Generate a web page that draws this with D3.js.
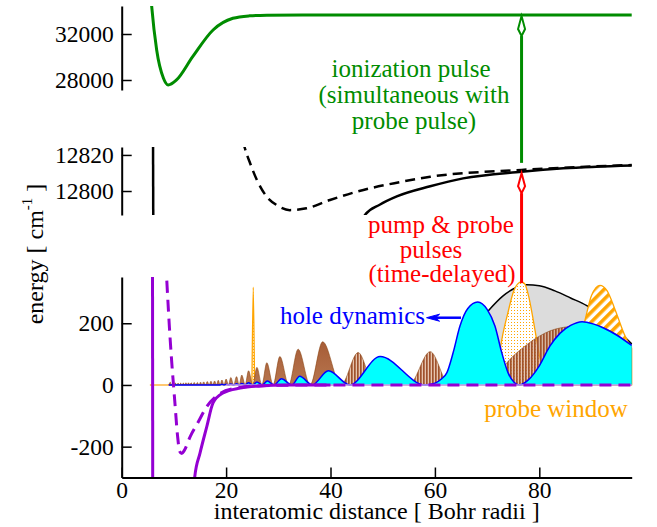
<!DOCTYPE html>
<html>
<head>
<meta charset="utf-8">
<script src="https://cdn.jsdelivr.net/npm/d3@7"></script>
<style>
  body { margin: 0; background: #fff; }
  svg { display: block; }
  svg text { font-family: "Liberation Serif", "Times New Roman", Times, serif; }
</style>
</head>
<body>
<script>
// values: x in Bohr radii, y in cm^-1
const xTicks = [0, 20, 40, 60, 80];
const xMinor = [10, 30, 50, 70, 90];
const topTicks = [28000, 32000];
const topMinor = [30000, 34000];
const midTicks = [12800, 12820];
const midMinor = [12790, 12810];
const lowTicks = [-200, 0, 200];
const lowMinor = [-100, 100, 300];

// ionic state (green)
const ionState = [[5.6, 35200], [5.75, 34374], [6.7, 30609], [8.0, 28148], [8.9, 27565], [10.5, 28000],
  [13.6, 30026], [17.5, 32348], [21.3, 33365], [24.5, 33580], [27.8, 33640], [35, 33655], [97.7, 33655]];

// excited states (black)
const excitedWall = [[6.0, 12830], [6.05, 12780]];
const excitedSolid = [[46.2, 12783], [46.6, 12786.7], [49.5, 12792.5], [52.7, 12797.0], [59.1, 12802.6],
  [65.4, 12807.0], [76.6, 12810.7], [84.6, 12812.6], [97.7, 12814.2]];
const excitedDashed = [[23.2, 12828], [23.6, 12823.7], [24.6, 12815.4], [25.9, 12806.1], [27.8, 12796.8],
  [29.7, 12792.2], [32.2, 12789.4], [35.4, 12790.4], [39.9, 12795], [46.3, 12800.6], [52.7, 12804.6],
  [59.1, 12807.9], [76.6, 12811.7], [97.7, 12814.4]];

// ground state potentials (purple)
const groundWall = [[5.9, 400], [5.95, -400]];
const groundSolid = [[13.8, -330], [14.0, -297], [15.0, -221], [16.3, -135], [17.5, -58], [19.4, -26],
  [22.7, -10], [26.5, -3], [32, -0.5], [40, 0]];
const groundDashed = [[8.45, 400], [8.6, 351], [9.25, 157], [10.2, -60], [10.7, -165], [11.1, -215],
  [11.5, -222], [12.0, -212], [13.1, -168], [14.5, -125], [16.3, -70], [18.8, -28], [22, -10], [26, -3],
  [30, -1], [40, 0], [97.7, 0]];
const zeroLine = [[20, 0], [97.7, 0]];

// initial wave packet (brown): lobes between nodes, then the broad outer lobe
const brownNodes = [9.05, 9.55, 10.05, 10.55, 11.05, 11.55, 12.05, 12.55, 13.05, 13.6, 14.2, 14.8,
  15.4, 16.05, 16.75, 17.45, 18.15, 18.85, 19.6, 20.45, 21.45, 22.5, 23.65, 25.1, 26.85, 29.0, 32.0,
  36.1, 42.0, 48.4, 55.0, 62.8, 70.5];
const brownPeaks = [[9.3, 9], [9.8, 6], [10.3, 6], [10.8, 6], [11.3, 6], [11.8, 6], [12.3, 7], [12.8, 7],
  [13.3, 7], [13.9, 8], [14.5, 8], [15.1, 9], [15.7, 10], [16.4, 11], [17.1, 12], [17.8, 13], [18.5, 15],
  [19.2, 16], [20.0, 19], [20.9, 24], [22.0, 27], [23.0, 32], [24.3, 46], [25.9, 57], [27.8, 72],
  [30.3, 92], [33.8, 116], [38.5, 140], [45.3, 105], [51.5, 70], [59.1, 108], [66.8, 150]];
const brownTail = [[72, 28], [73.8, 72], [76.9, 121], [80.1, 159], [82, 175], [86.5, 191], [90, 195],
  [94, 172], [97.7, 125]];

// hole dynamics (cyan)
const cyanNodes = [18.85, 19.6, 20.45, 21.45, 22.5, 23.65, 25.1, 26.9, 29.2, 32.6, 36.5, 43.7, 58.1];
const cyanPeaks = [[19.2, 2], [20.0, 2.5], [20.9, 3], [22.0, 4], [23.0, 5], [24.3, 7], [25.9, 10],
  [27.9, 13], [30.6, 20], [34.1, 28], [39.6, 46], [49.5, 92]];
const cyanTail = [[60, 6], [61.3, 20], [62.3, 40], [63.5, 105], [64.8, 191], [66.3, 248], [68.2, 269],
  [70.0, 245], [71.5, 191], [72.8, 105], [74, 40], [75.2, 8], [76.2, 0], [78, 18], [80, 62], [82, 125],
  [84, 168], [86, 193], [88.2, 205], [90.3, 198], [92.5, 183], [94.8, 162], [97.7, 128]];

// excited wave packet (gray)
const grayLobe = [[60.5, 0], [63, 45], [65.5, 120], [68, 190], [70.2, 240], [73, 288], [75.5, 315],
  [77.6, 325], [80, 322], [83, 305], [86, 282], [89.1, 257], [92, 222], [95, 177], [97.7, 133]];

// probe window (orange)
const probeBase = [[5.4, 0], [9.6, 0]];
const probeSpike = [[24.95, 0], [25.2, 317], [25.45, 0]];
const probeLobeA = [[70.5, 0], [71.2, 8], [72, 55], [72.8, 145], [74, 235], [75, 300], [76, 330],
  [76.6, 334], [77.2, 328], [78, 285], [79, 195], [80.1, 90], [81, 35], [82, 8], [83, 0]];
const probeLobeB = [[84.5, 0], [86, 40], [87.5, 120], [88.8, 213], [90, 290], [91.6, 323], [93, 305],
  [94.5, 245], [96.4, 160], [97.7, 118]];

const pulseR = 76.6;
const denseGridEnd = 41.5; // below this the brown sampling lines merge into a solid fill

const width = 657, height = 527;
const serif = '"Liberation Serif", "Times New Roman", Times, serif';

const svg = d3.select('body').append('svg')
  .attr('width', width)
  .attr('height', height);

const x = d3.scaleLinear().domain([0, 97.7]).range([121.7, 631.7]);
const yTop = d3.scaleLinear().domain([27130, 34435]).range([90, 6]);
const yMid = d3.scaleLinear().domain([12786.7, 12824.4]).range([215, 147]);
const yLow = d3.scaleLinear().domain([-300, 350]).range([477.5, 277]);

const defs = svg.append('defs');

function clip(id, y) {
  const [y0, y1] = y.range();
  defs.append('clipPath').attr('id', id).append('rect')
    .attr('x', x.range()[0]).attr('y', y1)
    .attr('width', x.range()[1] - x.range()[0] + 1).attr('height', y0 - y1);
}
clip('clipTop', yTop);
clip('clipMid', yMid);
clip('clipLow', yLow);

defs.append('clipPath').attr('id', 'clipDense').append('rect')
  .attr('x', 0).attr('y', 0).attr('width', x(denseGridEnd)).attr('height', height);
defs.append('clipPath').attr('id', 'clipSparse').append('rect')
  .attr('x', x(denseGridEnd)).attr('y', 0).attr('width', width).attr('height', height);

// fill patterns
const brownPat = defs.append('pattern').attr('id', 'brown')
  .attr('patternUnits', 'userSpaceOnUse').attr('width', 3).attr('height', 10);
brownPat.append('rect').attr('width', 3).attr('height', 10).attr('fill', 'rgba(205,140,95,0.5)');
brownPat.append('rect').attr('width', 1.7).attr('height', 10).attr('fill', '#a0522d');

const brownGrad = defs.append('linearGradient').attr('id', 'brownSolid')
  .attr('x1', 0).attr('y1', 0).attr('x2', 0).attr('y2', 1);
brownGrad.append('stop').attr('offset', '0%').attr('stop-color', '#a0522d');
brownGrad.append('stop').attr('offset', '100%').attr('stop-color', '#b7764f');

const dotPat = defs.append('pattern').attr('id', 'dots')
  .attr('patternUnits', 'userSpaceOnUse').attr('width', 3).attr('height', 3);
dotPat.append('rect').attr('width', 3).attr('height', 3).attr('fill', '#fff');
dotPat.append('rect').attr('x', 1).attr('y', 1).attr('width', 1).attr('height', 1).attr('fill', '#ffa500');

const hatchPat = defs.append('pattern').attr('id', 'hatch')
  .attr('patternUnits', 'userSpaceOnUse').attr('width', 7).attr('height', 7)
  .attr('patternTransform', 'rotate(45)');
hatchPat.append('rect').attr('width', 7).attr('height', 7).attr('fill', '#fff');
hatchPat.append('rect').attr('width', 3.6).attr('height', 7).attr('fill', '#ffa500');

function lobes(nodes, peaks) {
  const pts = [];
  nodes.forEach((n, i) => {
    pts.push([n, 0]);
    if (peaks[i]) pts.push(peaks[i]);
  });
  return pts;
}

const lineFor = (y) => d3.line()
  .x(d => x(d[0])).y(d => y(d[1]))
  .curve(d3.curveMonotoneX);
const areaFor = (y) => d3.area()
  .x(d => x(d[0])).y0(y(0)).y1(d => y(d[1]))
  .curve(d3.curveMonotoneX);

// ---- top panel ----
const gTop = svg.append('g').attr('clip-path', 'url(#clipTop)');
gTop.append('path').attr('d', lineFor(yTop)(ionState))
  .attr('fill', 'none').attr('stroke', '#008c00').attr('stroke-width', 3);

// ---- middle panel ----
const gMid = svg.append('g').attr('clip-path', 'url(#clipMid)');
gMid.append('path').attr('d', d3.line().x(d => x(d[0])).y(d => yMid(d[1]))(excitedWall))
  .attr('fill', 'none').attr('stroke', '#000').attr('stroke-width', 2.5);
gMid.append('path').attr('d', lineFor(yMid)(excitedSolid))
  .attr('fill', 'none').attr('stroke', '#000').attr('stroke-width', 2.5);
gMid.append('path').attr('d', lineFor(yMid)(excitedDashed))
  .attr('fill', 'none').attr('stroke', '#000').attr('stroke-width', 2.5)
  .attr('stroke-dasharray', '10,6');

// ---- bottom panel ----
const gLow = svg.append('g').attr('clip-path', 'url(#clipLow)');
const lowLine = lineFor(yLow);
const lowArea = areaFor(yLow);

gLow.append('path').attr('d', lowArea(grayLobe)).attr('fill', '#dcdcdc');
gLow.append('path').attr('d', lowLine(grayLobe.slice(4)))
  .attr('fill', 'none').attr('stroke', '#000').attr('stroke-width', 1.5);

gLow.append('path').attr('d', lowLine(probeBase))
  .attr('fill', 'none').attr('stroke', '#ffc870').attr('stroke-width', 2);
[[probeSpike, 'url(#dots)'], [probeLobeA, 'url(#dots)'], [probeLobeB, 'url(#hatch)']].forEach(([d, f]) => {
  gLow.append('path').attr('d', lowArea(d)).attr('fill', f)
    .attr('stroke', '#ffa500').attr('stroke-width', 1.3);
});

const brown = lobes(brownNodes, brownPeaks).concat(brownTail);
gLow.append('g').attr('clip-path', 'url(#clipDense)')
  .append('path').attr('d', lowArea(brown)).attr('fill', 'url(#brownSolid)')
  .attr('stroke', '#8b4513').attr('stroke-width', 0.6);
gLow.append('g').attr('clip-path', 'url(#clipSparse)')
  .append('path').attr('d', lowArea(brown)).attr('fill', 'url(#brown)')
  .attr('stroke', '#8b4513').attr('stroke-width', 0.6);

const cyan = [[9.0, 0]].concat(lobes(cyanNodes, cyanPeaks), cyanTail);
gLow.append('path').attr('d', lowArea(cyan)).attr('fill', '#00ffff');
gLow.append('path').attr('d', lowLine(cyan))
  .attr('fill', 'none').attr('stroke', '#0000ff').attr('stroke-width', 1.5);

gLow.append('path').attr('d', lowLine(zeroLine))
  .attr('fill', 'none').attr('stroke', '#c9a0e8').attr('stroke-width', 1.5);
gLow.append('path').attr('d', d3.line().x(d => x(d[0])).y(d => yLow(d[1]))(groundWall))
  .attr('fill', 'none').attr('stroke', '#9400d3').attr('stroke-width', 3);
gLow.append('path').attr('d', lowLine(groundSolid))
  .attr('fill', 'none').attr('stroke', '#9400d3').attr('stroke-width', 3);
gLow.append('path').attr('d', lowLine(groundDashed))
  .attr('fill', 'none').attr('stroke', '#9400d3').attr('stroke-width', 3)
  .attr('stroke-dasharray', '12,7');

// ---- axes ----
function leftAxis(y, major, minor) {
  const g = svg.append('g').attr('transform', `translate(${x.range()[0]},0)`);
  g.call(d3.axisLeft(y).tickValues(minor).tickSize(-6).tickSizeOuter(0).tickFormat(''));
  g.call(d3.axisLeft(y).tickValues(major).tickSize(-10).tickSizeOuter(0).tickPadding(8)
    .tickFormat(d => String(d)));
  g.attr('font-family', null);
  g.selectAll('.domain').attr('stroke-width', 2);
  g.selectAll('.tick line').attr('stroke-width', 1.5);
  g.selectAll('text').style('font-family', serif).attr('font-size', 23.5).attr('fill', '#000');
}
leftAxis(yTop, topTicks, topMinor);
leftAxis(yMid, midTicks, midMinor);
leftAxis(yLow, lowTicks, lowMinor);

const gx = svg.append('g').attr('transform', `translate(0,${yLow.range()[0]})`);
gx.call(d3.axisBottom(x).tickValues(xMinor).tickSize(-6).tickSizeOuter(0).tickFormat(''));
gx.call(d3.axisBottom(x).tickValues(xTicks).tickSize(-10).tickSizeOuter(0).tickPadding(4)
  .tickFormat(d => String(d)));
gx.attr('font-family', null);
gx.selectAll('.domain').attr('stroke-width', 2);
gx.selectAll('.tick line').attr('stroke-width', 1.5);
gx.selectAll('text').style('font-family', serif).attr('font-size', 23.5).attr('fill', '#000');

// ---- axis titles ----
svg.append('text')
  .attr('x', 376.7).attr('y', 519)
  .attr('text-anchor', 'middle')
  .style('font-family', serif).attr('font-size', 24)
  .text('interatomic distance [ Bohr radii ]');

const yl = svg.append('text')
  .attr('transform', 'translate(43,254) rotate(-90)')
  .attr('text-anchor', 'middle')
  .style('font-family', serif).attr('font-size', 24);
yl.append('tspan').text('energy [ cm');
yl.append('tspan').attr('dy', -11).attr('font-size', 15).text('-1');
yl.append('tspan').attr('dy', 11).text(' ]');

// ---- arrows ----
const ax = x(pulseR);
function openHead(tip, color) {
  svg.append('path')
    .attr('d', `M${ax},${tip} L${ax - 3.5},${tip + 13} L${ax},${tip + 20} L${ax + 3.5},${tip + 13} Z`)
    .attr('fill', '#fff').attr('stroke', color).attr('stroke-width', 2);
}
const redTip = yMid(12810.7) + 1.5;
svg.append('line').attr('x1', ax).attr('x2', ax)
  .attr('y1', yLow(330)).attr('y2', redTip + 20)
  .attr('stroke', '#ff0000').attr('stroke-width', 3);
openHead(redTip, '#ff0000');

const greenTip = yTop(33560);
svg.append('line').attr('x1', ax).attr('x2', ax)
  .attr('y1', yMid(12815.6)).attr('y2', greenTip + 20)
  .attr('stroke', '#008c00').attr('stroke-width', 3);
openHead(greenTip, '#008c00');

// hole dynamics pointer
const hy = yLow(218);
svg.append('line').attr('x1', x(60.0)).attr('x2', x(65.0)).attr('y1', hy).attr('y2', hy)
  .attr('stroke', '#0000ff').attr('stroke-width', 2.5);
const hx = x(58.4);
svg.append('path')
  .attr('d', `M${hx},${hy} L${hx + 13},${hy - 3.5} L${hx + 9},${hy} L${hx + 13},${hy + 3.5} Z`)
  .attr('fill', '#0000ff').attr('stroke', '#0000ff').attr('stroke-width', 1);

// ---- annotations ----
function label(lines, cx, y0, color, step) {
  lines.forEach((t, i) => {
    svg.append('text')
      .attr('x', cx[i]).attr('y', y0 + i * step)
      .attr('text-anchor', 'middle')
      .style('font-family', serif).attr('font-size', 25)
      .attr('fill', color)
      .text(t);
  });
}
label(['ionization pulse', '(simultaneous with', 'probe pulse)'], [411, 414, 414], 77, '#008c00', 26);
label(['pump & probe', 'pulses', '(time-delayed)'], [441, 431, 442], 233, '#ff0000', 24.5);

svg.append('text')
  .attr('x', 425).attr('y', 324)
  .attr('text-anchor', 'end')
  .style('font-family', serif).attr('font-size', 25)
  .attr('fill', '#0000ff')
  .text('hole dynamics');

svg.append('text')
  .attr('x', 556).attr('y', 417)
  .attr('text-anchor', 'middle')
  .style('font-family', serif).attr('font-size', 25)
  .attr('fill', '#ffa500')
  .text('probe window');
</script>
</body>
</html>
